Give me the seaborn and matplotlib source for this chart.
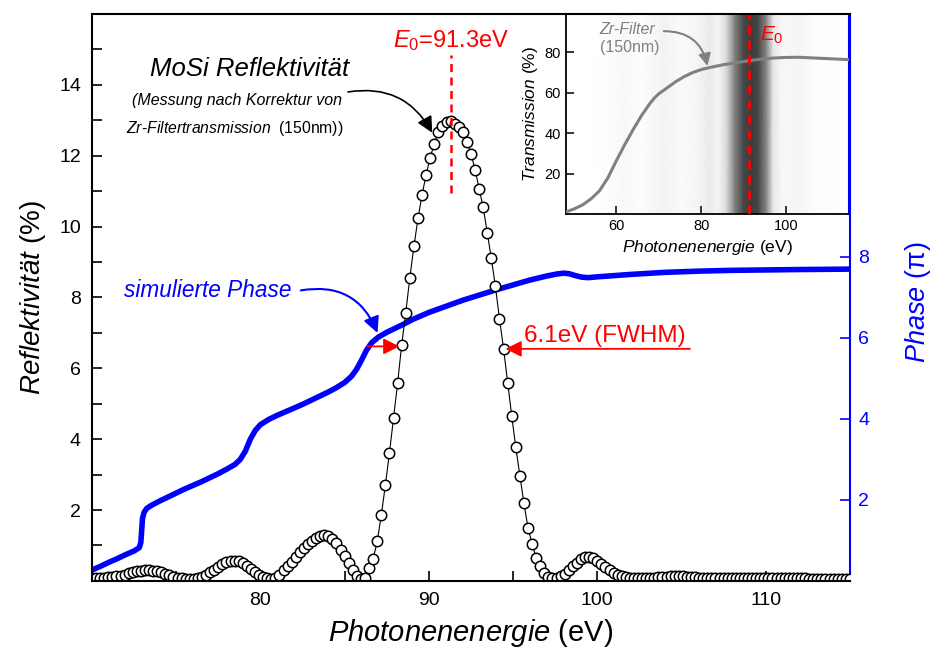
import numpy as np
import matplotlib
matplotlib.use("Agg")
import matplotlib.pyplot as plt
import seaborn as sns

# measured reflectivity (MoSi), equidistant energy grid ~0.24 eV
energy = np.linspace(70, 115, 187)
reflectivity = [
    0.07, 0.07, 0.08, 0.09, 0.10, 0.11, 0.13, 0.15, 0.18, 0.21,
    0.24, 0.27, 0.29, 0.30, 0.30, 0.29, 0.27, 0.24, 0.20, 0.16,
    0.12, 0.09, 0.07, 0.06, 0.06, 0.06,
    0.08, 0.12, 0.17, 0.24, 0.32, 0.40, 0.47, 0.53, 0.56, 0.57,
    0.55, 0.50, 0.43, 0.34, 0.25, 0.16, 0.10, 0.07, 0.06, 0.09,
    0.17, 0.30, 0.42, 0.54, 0.67, 0.81, 0.93, 1.04, 1.13, 1.21,
    1.27, 1.30, 1.27, 1.18, 1.06, 0.88, 0.70, 0.52, 0.31, 0.13,
    0.06, 0.08, 0.36, 0.62, 1.12,
    1.86, 2.71, 3.62, 4.60, 5.58, 6.67, 7.57, 8.56, 9.44, 10.23,
    10.90, 11.47, 11.95, 12.34, 12.66, 12.85, 12.94, 12.97, 12.91, 12.82,
    12.66, 12.40, 12.06, 11.61, 11.07, 10.54, 9.83, 9.10, 8.31, 7.40,
    6.55, 5.60, 4.66, 3.77, 2.97, 2.19, 1.50, 1.05, 0.65, 0.42,
    0.23, 0.10, 0.08,
    0.09, 0.13, 0.20, 0.30, 0.41, 0.52, 0.61, 0.67, 0.68, 0.64,
    0.56, 0.47, 0.38, 0.30, 0.23, 0.18, 0.14, 0.11, 0.09,
    0.08, 0.08, 0.08, 0.08, 0.09, 0.09, 0.10, 0.11, 0.12, 0.13,
    0.13, 0.13, 0.13, 0.12, 0.11, 0.10, 0.09,
    0.08, 0.08, 0.08, 0.07, 0.07, 0.07, 0.07, 0.08, 0.08, 0.08,
    0.08, 0.08, 0.07, 0.07, 0.07, 0.07, 0.07, 0.07, 0.07, 0.07,
    0.07, 0.07, 0.07, 0.07, 0.07, 0.07, 0.06, 0.06, 0.06, 0.06,
    0.06, 0.06, 0.06, 0.06, 0.06, 0.06, 0.06,
]

# simulated phase (in units of pi)
phase_energy = [70.0, 70.5, 71.0, 71.5, 72.0, 72.5, 72.8, 72.9, 72.95, 73.0,
                73.1, 73.25, 73.5, 74.0, 74.5, 75.0, 75.5, 76.0, 76.5, 77.0,
                77.5, 78.0, 78.5, 78.8, 79.1, 79.4, 79.7, 80.0, 80.5, 81.0,
                81.5, 82.0, 82.5, 83.0, 83.5, 84.0, 84.5, 85.0, 85.4, 85.7,
                86.0, 86.3, 86.6, 87.0, 87.5, 88.0, 88.5, 89.0, 90.0, 91.0,
                92.0, 93.0, 94.0, 95.0, 96.0, 97.0, 97.6, 98.0, 98.3, 98.7,
                99.1, 99.5, 100.0, 101.0, 102.0, 104.0, 106.0, 108.0, 110.0, 112.0,
                115.0]
phase = [0.27, 0.36, 0.46, 0.55, 0.65, 0.74, 0.82, 0.95, 1.25, 1.55,
         1.70, 1.79, 1.86, 1.97, 2.07, 2.17, 2.27, 2.36, 2.45, 2.55,
         2.65, 2.76, 2.88, 3.00, 3.20, 3.50, 3.72, 3.86, 3.99, 4.09,
         4.18, 4.27, 4.36, 4.46, 4.56, 4.66, 4.77, 4.90, 5.05, 5.22,
         5.45, 5.70, 5.88, 6.02, 6.14, 6.24, 6.34, 6.45, 6.63, 6.78,
         6.93, 7.06, 7.19, 7.31, 7.43, 7.53, 7.58, 7.60, 7.59, 7.54,
         7.50, 7.49, 7.51, 7.54, 7.57, 7.62, 7.65, 7.67, 7.68, 7.69,
         7.70]

# Zr filter transmission (150 nm)
filter_energy = [48, 50, 52, 54, 56, 58, 60, 62, 64, 66, 68, 69, 70, 72, 74,
                 76, 78, 80, 82, 85, 88, 91, 94, 97, 100, 103, 106, 110, 115]
filter_transmission = [1.0, 2.5, 4.5, 7.5, 11.5, 18.0, 26.5, 34.5, 42.0, 49.0,
                       55.0, 57.5, 59.5, 62.5, 65.5, 68.0, 70.0, 71.5, 72.5,
                       73.8, 74.8, 75.8, 76.6, 77.2, 77.5, 77.6, 77.3, 76.9, 76.4]

# grey band behind the inset
band_energy = [48, 55, 58, 62, 66, 71, 75, 79, 82, 84, 86, 88, 90, 91.8,
               93.5, 95.5, 97, 99, 103, 107, 115]
band_darkness = [0.0, 0.0, 0.01, 0.03, 0.01, 0.05, 0.02, 0.04, 0.08, 0.04,
                 0.15, 0.5, 0.72, 0.76, 0.72, 0.45, 0.1, 0.03, 0.04, 0.01, 0.0]

E0 = 91.3
fwhm = 6.1

sns.set_style("ticks")
plt.rcParams["font.family"] = ["Liberation Sans", "DejaVu Sans"]
plt.rcParams["mathtext.fontset"] = "custom"
plt.rcParams["mathtext.it"] = "Liberation Sans:italic"
plt.rcParams["mathtext.rm"] = "Liberation Sans"
plt.rcParams["mathtext.sf"] = "Liberation Sans"
plt.rcParams["text.color"] = "black"
plt.rcParams["axes.labelcolor"] = "black"
plt.rcParams["xtick.color"] = "black"
plt.rcParams["ytick.color"] = "black"

blue = "#0000ff"
red = "#ff0000"
grey = "#808080"

fig = plt.figure(figsize=(9.35, 6.52), dpi=100)
ax = fig.add_axes([0.0984, 0.109, 0.8106, 0.8695])
ax2 = ax.twinx()
ax.set_zorder(ax2.get_zorder() + 1)
ax.patch.set_visible(False)

# phase curve (right axis)
sns.lineplot(x=phase_energy, y=phase, ax=ax2, color=blue, lw=4,
             estimator=None, sort=False)
ax2.set_ylim(0, 14)
ax2.set_yticks([2, 4, 6, 8])
ax2.tick_params(axis="y", direction="in", length=7, width=1.2,
                colors=blue, labelsize=14, pad=6)
ax2.set_ylabel("")
for side in ["left", "top", "bottom"]:
    ax2.spines[side].set_visible(False)
ax2.spines["right"].set_color(blue)
ax2.spines["right"].set_linewidth(1.5)
fig.text(918 / 935, 1 - 302 / 652, "$\\mathit{Phase}$ (π)", color=blue,
         fontsize=19.5, rotation=90, ha="center", va="center")

# reflectivity
sns.lineplot(x=energy, y=reflectivity, ax=ax, color="black", lw=0.8,
             marker="o", markersize=7.5, markerfacecolor="white",
             markeredgecolor="black", markeredgewidth=1.1,
             estimator=None, sort=False)
ax.set_xlim(70, 115)
ax.set_ylim(0, 16)
ax.set_xticks([80, 90, 100, 110])
ax.set_xticks([75, 85, 95, 105], minor=True)
ax.set_yticks([2, 4, 6, 8, 10, 12, 14])
ax.set_yticks(np.arange(1, 16, 2), minor=True)
ax.tick_params(which="both", direction="in", length=7, width=1.2,
               labelsize=14, top=False, right=False)
ax.tick_params(axis="x", pad=8)
ax.tick_params(axis="y", pad=8)
for side in ["left", "top", "bottom"]:
    ax.spines[side].set_linewidth(1.5)
    ax.spines[side].set_color("black")
ax.spines["right"].set_visible(False)
ax.set_xlabel("$\\mathit{Photonenenergie}$ (eV)", fontsize=21, labelpad=6)
ax.set_ylabel("$\\mathit{Reflektivität}$ (%)", fontsize=20, labelpad=8)

# E0 marker
ax.plot([E0, E0], [10.95, 14.85], color=red, lw=1.8, dashes=(3.2, 2.2))
ax.text(E0, 15.25, "$E_0$=91.3eV", color=red, fontsize=17,
        ha="center", va="center")

# FWHM arrows
arrow_red = dict(arrowstyle="-|>", color=red, lw=1.3, mutation_scale=24,
                 shrinkA=0, shrinkB=0)
ax.annotate("", xy=(88.25, 6.62), xytext=(86.35, 6.62), arrowprops=arrow_red)
ax.annotate("", xy=(94.55, 6.55), xytext=(105.5, 6.55), arrowprops=arrow_red)
ax.text(100.45, 6.92, f"{fwhm}eV (FWHM)", color=red, fontsize=17.5,
        ha="center", va="center")

# description texts
ax.text(79.35, 14.45, "MoSi Reflektivität", fontsize=18.5, style="italic",
        ha="center", va="center")
ax.text(78.6, 13.55, "(Messung nach Korrektur von", fontsize=11.5,
        style="italic", ha="center", va="center")
ax.text(78.5, 12.77, "$\\mathit{Zr}$-$\\mathit{Filtertransmission}$  (150nm))",
        fontsize=11.3, ha="center", va="center")
ax.annotate("", xy=(90.2, 12.65), xytext=(85.2, 13.8),
            arrowprops=dict(arrowstyle="-|>", color="black", lw=1.2,
                            mutation_scale=24, shrinkA=0, shrinkB=0,
                            connectionstyle="arc3,rad=-0.35"))

ax.text(76.85, 8.2, "simulierte Phase", fontsize=16.3, style="italic",
        color=blue, ha="center", va="center")
ax.annotate("", xy=(86.95, 7.0), xytext=(82.4, 8.2),
            arrowprops=dict(arrowstyle="-|>", color=blue, lw=1.5,
                            mutation_scale=24, shrinkA=0, shrinkB=0,
                            connectionstyle="arc3,rad=-0.4"))

# inset: Zr filter transmission
axin = fig.add_axes([0.605, 0.6718, 0.3033, 0.3067])
band_x = np.array([band_energy, band_energy])
band_y = np.array([[0] * len(band_energy), [99] * len(band_energy)])
band_c = np.array([band_darkness, band_darkness])
axin.pcolormesh(band_x, band_y, band_c, shading="gouraud", cmap="gray_r",
                vmin=0, vmax=1, zorder=0)
sns.lineplot(x=filter_energy, y=filter_transmission, ax=axin, color=grey,
             lw=2.2, estimator=None, sort=False, zorder=3)
axin.axvline(E0, color=red, lw=2, dashes=(3.2, 2.2), zorder=4)
axin.set_xlim(48, 115)
axin.set_ylim(0, 99)
axin.set_xticks([60, 80, 100])
axin.set_yticks([20, 40, 60, 80])
axin.tick_params(direction="in", length=6, width=1.1, labelsize=10.5,
                 top=False, right=False)
for side in ["left", "top", "bottom"]:
    axin.spines[side].set_linewidth(1.3)
    axin.spines[side].set_color("black")
axin.spines["right"].set_color(blue)
axin.spines["right"].set_linewidth(1.5)
axin.set_xlabel("$\\mathit{Photonenenergie}$ (eV)", fontsize=12.5, labelpad=4)
axin.set_ylabel("$\\mathit{Transmission}$ (%)", fontsize=12.5, labelpad=3)
axin.text(94.0, 88.5, "$E_0$", color=red, fontsize=15, ha="left", va="center")
axin.text(56.0, 91.5, "Zr-Filter", color=grey, fontsize=11.5, style="italic",
          ha="left", va="center")
axin.text(56.0, 82.5, "(150nm)", color=grey, fontsize=11.5, ha="left",
          va="center")
axin.annotate("", xy=(81.5, 73.3), xytext=(71.2, 90.5),
              arrowprops=dict(arrowstyle="-|>", color=grey, lw=1.5,
                              mutation_scale=18, shrinkA=0, shrinkB=0,
                              connectionstyle="arc3,rad=-0.4"))

fig.savefig("out.png", dpi=100)
